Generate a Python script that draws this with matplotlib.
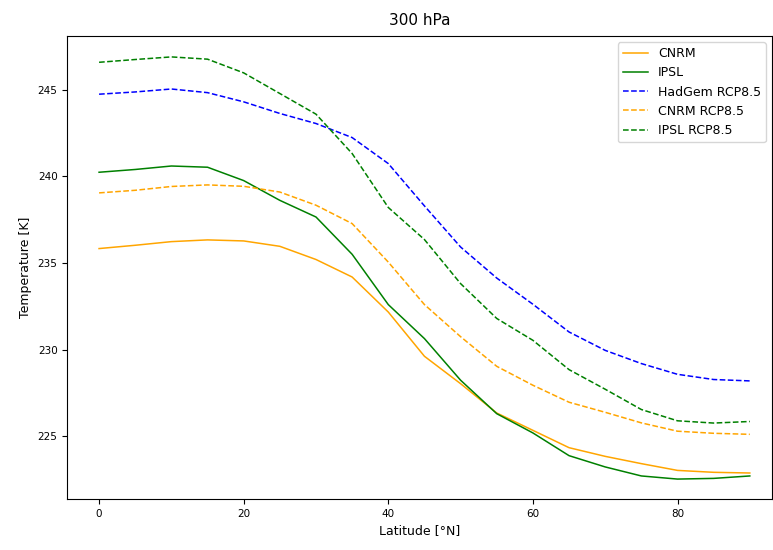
import numpy as np
import matplotlib
matplotlib.use("Agg")
import matplotlib.pyplot as plt

# Szerokość geograficzna co 5 stopni
lat = np.arange(0, 91, 5)

cnrm = [235.83, 236.02, 236.23, 236.33, 236.27, 235.96, 235.20, 234.19, 232.17, 229.62,
        228.04, 226.35, 225.35, 224.35, 223.85, 223.43, 223.04, 222.93, 222.89]
ipsl = [240.23, 240.39, 240.59, 240.52, 239.75, 238.61, 237.65, 235.50, 232.60, 230.64,
        228.24, 226.31, 225.20, 223.89, 223.24, 222.72, 222.54, 222.58, 222.72]
hadgem_rcp = [244.73, 244.86, 245.03, 244.82, 244.29, 243.62, 243.04, 242.23, 240.73, 238.29,
              235.92, 234.13, 232.62, 231.02, 229.96, 229.20, 228.58, 228.28, 228.20]
cnrm_rcp = [239.04, 239.19, 239.41, 239.50, 239.42, 239.09, 238.33, 237.27, 235.05, 232.60,
            230.75, 229.04, 227.95, 226.97, 226.39, 225.78, 225.30, 225.18, 225.12]
ipsl_rcp = [246.57, 246.73, 246.88, 246.75, 245.96, 244.77, 243.58, 241.31, 238.20, 236.35,
            233.81, 231.80, 230.54, 228.85, 227.72, 226.55, 225.90, 225.77, 225.86]

fig = plt.figure(figsize=(7.73, 5.5), dpi=100)
ax = fig.add_axes([0.087, 0.093, 0.912, 0.842])

ax.plot(lat, cnrm, color='orange', lw=1.1, label='CNRM')
ax.plot(lat, ipsl, color='green', lw=1.1, label='IPSL')
ax.plot(lat, hadgem_rcp, color='blue', lw=1.1, ls='--', label='HadGem RCP8.5')
ax.plot(lat, cnrm_rcp, color='orange', lw=1.1, ls='--', label='CNRM RCP8.5')
ax.plot(lat, ipsl_rcp, color='green', lw=1.1, ls='--', label='IPSL RCP8.5')

ax.set_xlim(-4.4, 93.1)
ax.set_ylim(221.4, 248.1)
ax.set_xticks([0, 20, 40, 60, 80])
ax.set_yticks([225, 230, 235, 240, 245])
ax.tick_params(labelsize=7.5)
ax.set_xlabel('Latitude [°N]', fontsize=9)
ax.set_ylabel('Temperature [K]', fontsize=9)
ax.set_title('300 hPa', fontsize=11, pad=8)
ax.legend(loc='upper right', fontsize=9)

fig.savefig('out.png', dpi=100)
